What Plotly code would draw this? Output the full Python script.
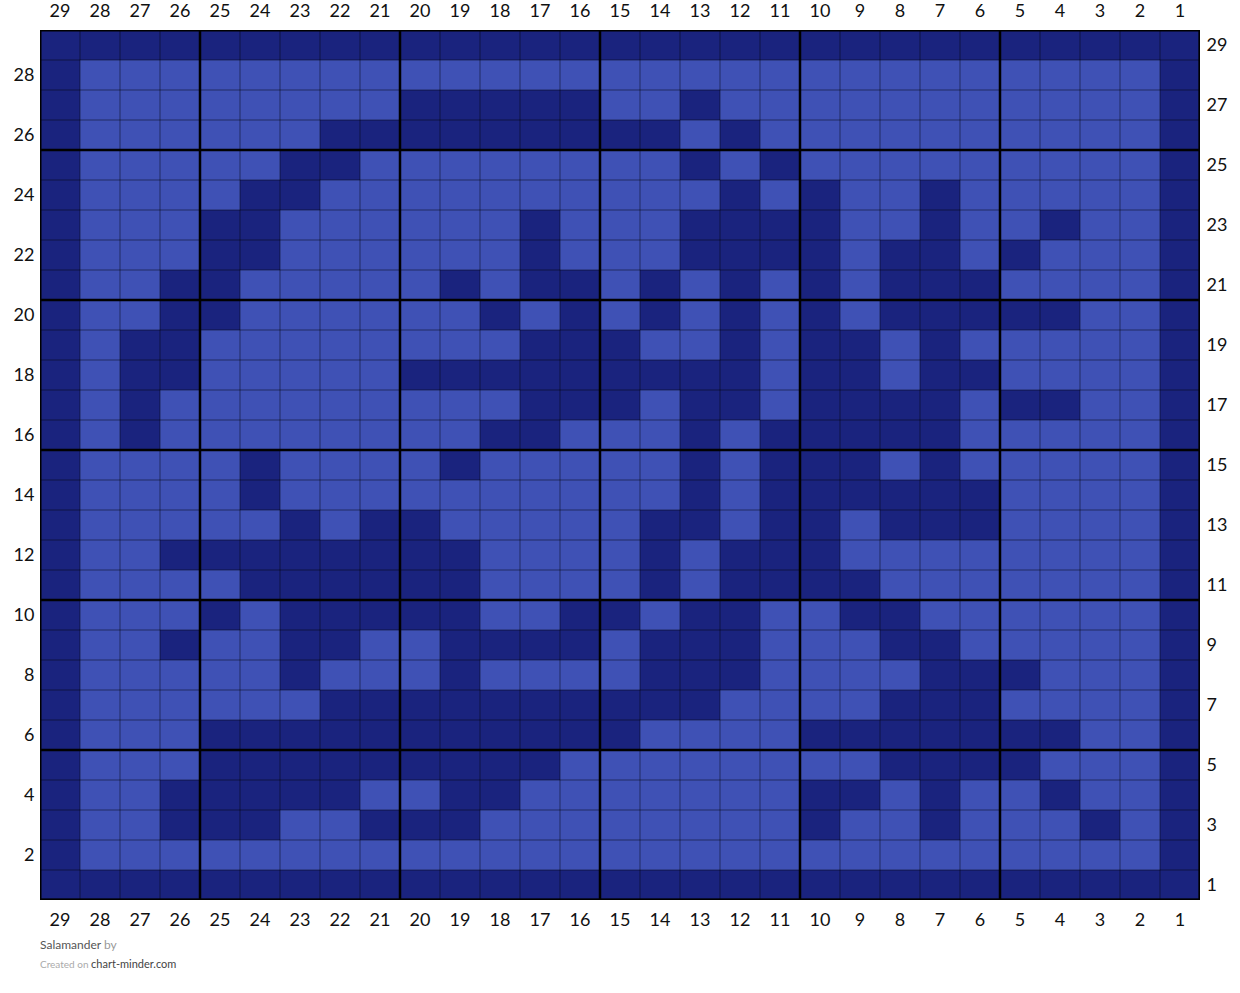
import plotly.graph_objects as go

# Rows listed from top (row 29) to bottom (row 1); each string from column 29 (left) to column 1 (right)
# D = dark (main colour), L = light (contrast colour)
row_numbers = list(range(29, 0, -1))
column_numbers = list(range(29, 0, -1))
pattern_rows = [
    "DDDDDDDDDDDDDDDDDDDDDDDDDDDDD",  # 29
    "DLLLLLLLLLLLLLLLLLLLLLLLLLLLD",  # 28
    "DLLLLLLLLDDDDDLLDLLLLLLLLLLLD",  # 27
    "DLLLLLLDDDDDDDDDLDLLLLLLLLLLD",  # 26
    "DLLLLLDDLLLLLLLLDLDLLLLLLLLLD",  # 25
    "DLLLLDDLLLLLLLLLLDLDLLDLLLLLD",  # 24
    "DLLLDDLLLLLLDLLLDDDDLLDLLDLLD",  # 23
    "DLLLDDLLLLLLDLLLDDDDLDDLDLLLD",  # 22
    "DLLDDLLLLLDLDDLDLDLDLDDDLLLLD",  # 21
    "DLLDDLLLLLLDLDLDLDLDLDDDDDLLD",  # 20
    "DLDDLLLLLLLLDDDLLDLDDLDLLLLLD",  # 19
    "DLDDLLLLLDDDDDDDDDLDDLDDLLLLD",  # 18
    "DLDLLLLLLLLLDDDLDDLDDDDLDDLLD",  # 17
    "DLDLLLLLLLLDDLLLDLDDDDDLLLLLD",  # 16
    "DLLLLDLLLLDLLLLLDLDDDLDLLLLLD",  # 15
    "DLLLLDLLLLLLLLLLDLDDDDDDLLLLD",  # 14
    "DLLLLLDLDDLLLLLDDLDDLDDDLLLLD",  # 13
    "DLLDDDDDDDDLLLLDLDDDLLLLLLLLD",  # 12
    "DLLLLDDDDDDLLLLDLDDDDLLLLLLLD",  # 11
    "DLLLDLDDDDDLLDDLDDLLDDLLLLLLD",  # 10
    "DLLDLLDDLLDDDDLDDDLLLDDLLLLLD",  # 9
    "DLLLLLDLLLDLLLLDDDLLLLDDDLLLD",  # 8
    "DLLLLLLDDDDDDDDDDLLLLDDDLLLLD",  # 7
    "DLLLDDDDDDDDDDDLLLLDDDDDDDLLD",  # 6
    "DLLLDDDDDDDDDLLLLLLLLDDDDLLLD",  # 5
    "DLLDDDDDLLDDLLLLLLLDDLDLLDLLD",  # 4
    "DLLDDDLLDDDLLLLLLLLDLLDLLLDLD",  # 3
    "DLLLLLLLLLLLLLLLLLLLLLLLLLLLD",  # 2
    "DDDDDDDDDDDDDDDDDDDDDDDDDDDDD",  # 1
]
left_labels = [r for r in row_numbers if r % 2 == 0]
right_labels = [r for r in row_numbers if r % 2 == 1]
title_text = "Salamander"
credit_site = "chart-minder.com"

DARK = "#1A237E"
LIGHT = "#3F51B5"

z = [[1 if ch == "D" else 0 for ch in row] for row in pattern_rows]
n_cols = len(column_numbers)
n_rows = len(row_numbers)

fig = go.Figure()
fig.add_trace(go.Heatmap(
    x=column_numbers, y=row_numbers, z=z,
    colorscale=[[0, LIGHT], [0.5, LIGHT], [0.5, DARK], [1, DARK]],
    zmin=0, zmax=1, showscale=False, hoverinfo="skip",
))
# invisible companion trace so the secondary (bottom / right) axes are drawn
fig.add_trace(go.Scatter(
    x=column_numbers, y=row_numbers, xaxis="x2", yaxis="y2",
    mode="markers", marker=dict(opacity=0), hoverinfo="skip", showlegend=False,
))

shapes = []
for i in range(n_cols + 1):
    xv = i + 0.5
    thick = (i % 5 == 0)
    shapes.append(dict(type="line", xref="x", yref="y", x0=xv, x1=xv, y0=0.5, y1=n_rows + 0.5,
                       line=dict(color="black" if thick else "rgba(0,0,0,0.45)", width=2.5 if thick else 1)))
for j in range(n_rows + 1):
    yv = j + 0.5
    thick = (j % 5 == 0)
    shapes.append(dict(type="line", xref="x", yref="y", y0=yv, y1=yv, x0=0.5, x1=n_cols + 0.5,
                       line=dict(color="black" if thick else "rgba(0,0,0,0.45)", width=2.5 if thick else 1)))
shapes.append(dict(type="rect", xref="x", yref="y", x0=0.5, x1=n_cols + 0.5, y0=0.5, y1=n_rows + 0.5,
                   line=dict(color="black", width=3)))

tickfont = dict(family="Lato", size=18, color="#111")
xr = [n_cols + 0.5, 0.5]
yr = [0.5, n_rows + 0.5]
clear = "rgba(0,0,0,0)"
fig.update_layout(
    width=1240, height=993,
    margin=dict(l=40, r=40, t=30, b=93, autoexpand=False),
    paper_bgcolor="white", plot_bgcolor="white",
    showlegend=False,
    shapes=shapes,
    xaxis=dict(side="top", range=xr, tickvals=column_numbers, ticktext=[str(c) for c in column_numbers],
               tickfont=tickfont, showgrid=False, zeroline=False, ticks="outside", ticklen=5,
               tickcolor=clear, automargin=False, fixedrange=True),
    xaxis2=dict(side="bottom", overlaying="x", anchor="y", range=xr, tickvals=column_numbers,
                ticktext=[str(c) for c in column_numbers], tickfont=tickfont, showgrid=False,
                zeroline=False, ticks="outside", ticklen=3, tickcolor=clear, automargin=False),
    yaxis=dict(side="left", range=yr, tickvals=left_labels, ticktext=[str(r) for r in left_labels],
               tickfont=tickfont, showgrid=False, zeroline=False, ticks="outside", ticklen=1,
               tickcolor=clear, automargin=False, fixedrange=True),
    yaxis2=dict(side="right", overlaying="y", anchor="x", range=yr, tickvals=right_labels,
                ticktext=[str(r) for r in right_labels], tickfont=tickfont, showgrid=False,
                zeroline=False, ticks="outside", ticklen=2, tickcolor=clear, automargin=False),
    annotations=[
        dict(xref="paper", yref="paper", x=0, y=-44 / 870, xanchor="left", yanchor="middle",
             text=f"<span style='color:#555'>{title_text}</span> <span style='color:#999'>by</span>",
             showarrow=False, font=dict(family="Lato", size=12), xshift=-2),
        dict(xref="paper", yref="paper", x=0, y=-63 / 870, xanchor="left", yanchor="middle",
             text=f"<span style='color:#aaa;font-size:10px'>Created on </span><span style='color:#444'>{credit_site}</span>",
             showarrow=False, font=dict(family="Lato", size=11), xshift=-2),
    ],
)

fig.write_html("out.html", config={"displayModeBar": False},
               post_script="document.body.style.margin='0px';")
